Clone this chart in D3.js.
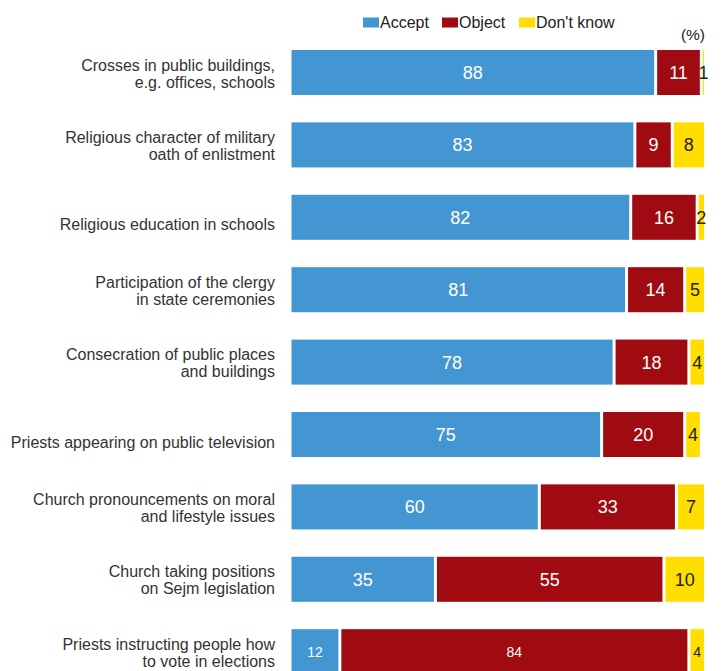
<!DOCTYPE html>
<html>
<head>
<meta charset="utf-8">
<script src="https://cdn.jsdelivr.net/npm/d3@7"></script>
<style>
  body { margin: 0; background: #fff; }
  svg { display: block; font-family: "Liberation Sans", Arial, sans-serif; }
</style>
</head>
<body>
<svg width="728" height="671"></svg>
<script>
var categories = [
    "Crosses in public buildings,\ne.g. offices, schools",
    "Religious character of military\noath of enlistment",
    "Religious education in schools",
    "Participation of the clergy\nin state ceremonies",
    "Consecration of public places\nand buildings",
    "Priests appearing on public television",
    "Church pronouncements on moral\nand lifestyle issues",
    "Church taking positions\non Sejm legislation",
    "Priests instructing people how\nto vote in elections"
]
var accept = [88, 83, 82, 81, 78, 75, 60, 35, 12]
var object = [11, 9, 16, 14, 18, 20, 33, 55, 84]
var dontKnow = [1, 8, 2, 5, 4, 4, 7, 10, 4]
var seriesNames = ["Accept", "Object", "Don't know"]

var colors = ["#4496d2", "#a00b12", "#ffde00"]
var labelColors = ["#fff", "#fff", "#222"]

var svg = d3.select("svg")

var rows = categories.map(function (c, i) {
    return { cat: c, values: [accept[i], object[i], dontKnow[i]] }
})

var x = d3.scaleLinear().domain([0, 100]).range([290, 705.5])
var y = d3.scaleBand()
    .domain(d3.range(categories.length))
    .range([36.3, 36.3 + 72.4 * 9])
    .paddingInner(0.378)
    .paddingOuter(0.189)

// legend
var legendX = [363, 442, 519]
var legend = svg.append("g")
seriesNames.forEach(function (name, i) {
    legend.append("rect")
        .attr("x", legendX[i]).attr("y", 17.5)
        .attr("width", 16).attr("height", 10)
        .attr("fill", colors[i])
    legend.append("text")
        .attr("x", legendX[i] + 17).attr("y", 27.5)
        .attr("font-size", 16)
        .attr("fill", "#222")
        .text(name)
})

svg.append("text")
    .attr("x", 705).attr("y", 40)
    .attr("text-anchor", "end")
    .attr("font-size", 15.5)
    .attr("fill", "#222")
    .text("(%)")

// bars
var row = svg.append("g").selectAll("g")
    .data(rows)
    .enter().append("g")

row.each(function (d, i) {
    var g = d3.select(this)
    var start = 0
    var yc = y(i) + y.bandwidth() / 2
    d.values.forEach(function (v, k) {
        var x0 = x(start), x1 = x(start + v)
        g.append("rect")
            .attr("x", x0 + 1.5)
            .attr("y", y(i))
            .attr("width", Math.max(1.2, x1 - x0 - 3))
            .attr("height", y.bandwidth())
            .attr("fill", colors[k])
        g.append("text")
            .attr("x", (x0 + x1) / 2)
            .attr("y", yc)
            .attr("dy", "0.36em")
            .attr("text-anchor", "middle")
            // the last row uses smaller value labels in the original
            .attr("font-size", i == rows.length - 1 ? 14 : 18)
            .attr("fill", labelColors[k])
            .text(v)
        start += v
    })

    // category label
    var lines = d.cat.split("\n")
    var t = g.append("text")
        .attr("text-anchor", "end")
        .attr("font-size", 16)
        .attr("fill", "#333")
    if (lines.length == 1) {
        t.append("tspan").attr("x", 275).attr("y", yc + 13).text(lines[0])
    } else {
        lines.forEach(function (l, j) {
            t.append("tspan").attr("x", 275).attr("y", yc - 2 + j * 17).text(l)
        })
    }
})
</script>
</body>
</html>
